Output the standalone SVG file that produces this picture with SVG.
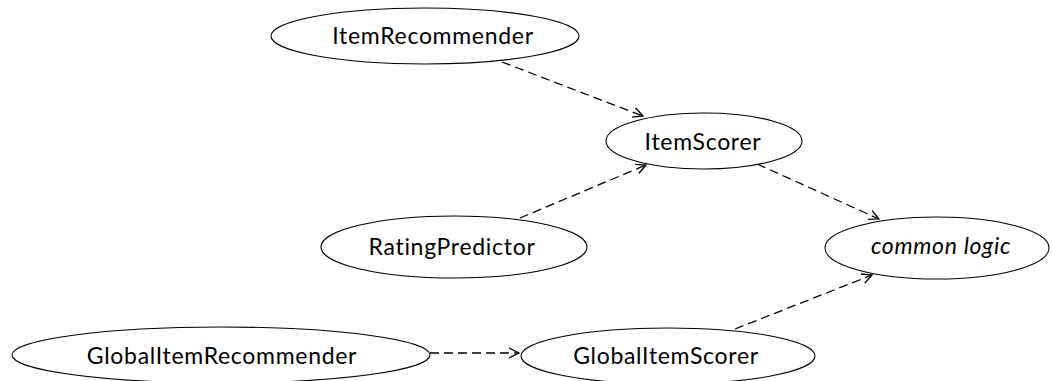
<svg xmlns="http://www.w3.org/2000/svg" width="1052" height="381" viewBox="0 0 1052 381">
<defs>
<style>
.node ellipse{fill:#fff;stroke:#000;stroke-width:1.1}
.node text{font-family:Lato,"Open Sans","DejaVu Sans",sans-serif;font-size:23px;letter-spacing:0.7px;fill:#000;text-anchor:middle}
.edge{fill:none;stroke:#000;stroke-width:1.3;stroke-dasharray:9,5}
</style>
<marker id="vee" markerUnits="userSpaceOnUse" markerWidth="12" markerHeight="12" refX="10" refY="5" orient="auto" viewBox="0 0 12 10">
<path d="M0,0 L10,5 L0,10" fill="none" stroke="#000" stroke-width="1.3"/>
</marker>
</defs>
<rect width="1052" height="381" fill="#fff"/>
<g id="connectors">
<line class="edge" x1="502" y1="62" x2="643" y2="116" marker-end="url(#vee)"/>
<line class="edge" x1="520" y1="218" x2="646" y2="165" marker-end="url(#vee)"/>
<line class="edge" x1="757" y1="164" x2="879" y2="219" marker-end="url(#vee)"/>
<line class="edge" x1="735" y1="329" x2="872" y2="275" marker-end="url(#vee)"/>
<line class="edge" x1="430" y1="353" x2="519" y2="353" marker-end="url(#vee)"/>
</g>
<g id="ItemRecommender" class="node">
<ellipse cx="425" cy="36" rx="154" ry="28"/>
<text x="433" y="44">ItemRecommender</text>
</g>
<g id="ItemScorer" class="node">
<ellipse cx="704" cy="141" rx="98" ry="28"/>
<text x="703" y="150">ItemScorer</text>
</g>
<g id="RatingPredictor" class="node">
<ellipse cx="454" cy="247" rx="133" ry="31"/>
<text x="452" y="255">RatingPredictor</text>
</g>
<g id="CommonLogic" class="node">
<ellipse cx="937" cy="248" rx="112" ry="31"/>
<text x="941" y="254" font-style="italic">common logic</text>
</g>
<g id="GlobalItemRecommender" class="node">
<ellipse cx="221" cy="355" rx="209" ry="28"/>
<text x="222" y="364">GlobalItemRecommender</text>
</g>
<g id="GlobalItemScorer" class="node">
<ellipse cx="668" cy="356" rx="147" ry="28"/>
<text x="666" y="364">GlobalItemScorer</text>
</g>
</svg>
